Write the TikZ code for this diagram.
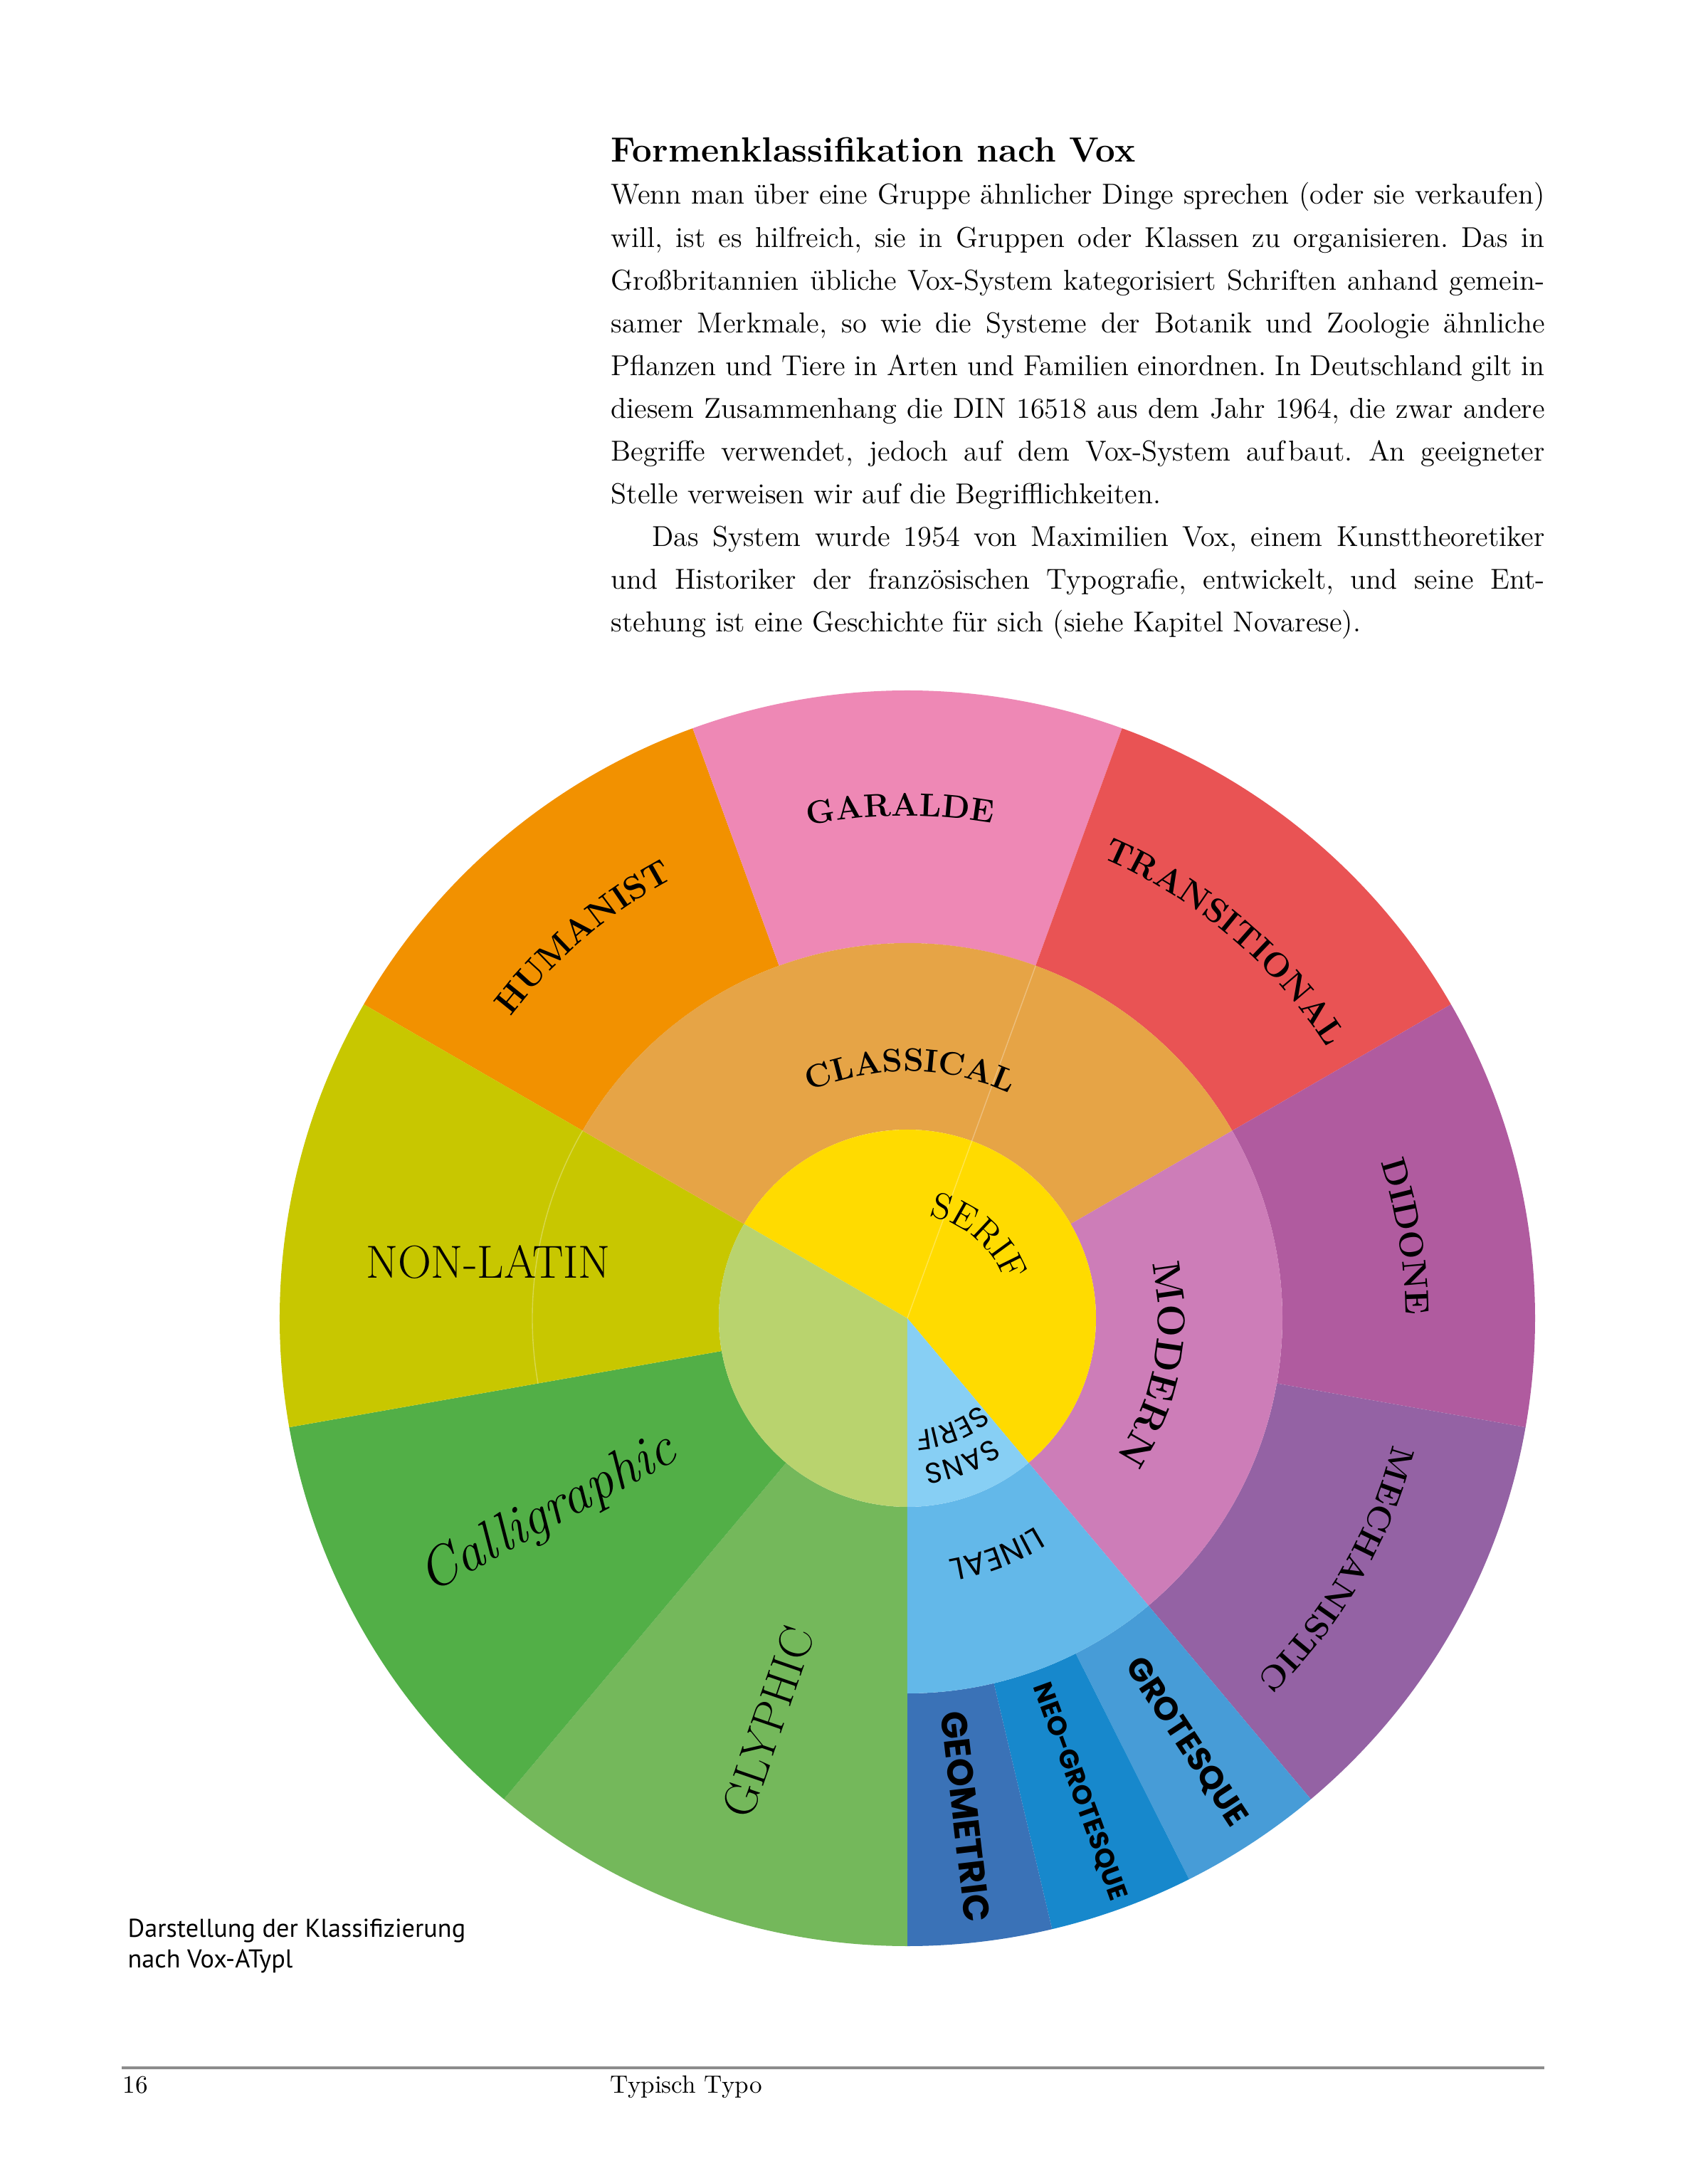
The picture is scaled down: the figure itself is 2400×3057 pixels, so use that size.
\documentclass[tikz,border=0pt]{standalone}
\usepackage{fontspec}
\usetikzlibrary{decorations.text}
\newfontfamily\capfont{PT Sans}
\newfontfamily\linfont{Poppins}

\definecolor{humanistc}{HTML}{F29100}
\definecolor{garaldec}{HTML}{EE88B5}
\definecolor{transitionalc}{HTML}{E95354}
\definecolor{didonec}{HTML}{B05B9F}
\definecolor{mechanisticc}{HTML}{9462A4}
\definecolor{grotesquec}{HTML}{479CD7}
\definecolor{neogrotesquec}{HTML}{1788CC}
\definecolor{geometricc}{HTML}{3A72B7}
\definecolor{glyphicc}{HTML}{74B85B}
\definecolor{calligraphicc}{HTML}{52AF47}
\definecolor{nonlatinc}{HTML}{C8C700}
\definecolor{classicalc}{HTML}{E6A446}
\definecolor{modernc}{HTML}{CD7DB8}
\definecolor{linealc}{HTML}{63B8E9}
\definecolor{serifc}{HTML}{FFDB00}
\definecolor{sansc}{HTML}{87CFF4}
\definecolor{otherc}{HTML}{B9D36E}

% ring piece: colour, start angle, end angle, inner radius, outer radius
\newcommand{\ringpart}[5]{%
  \fill[#1] (#2:#4) arc[start angle=#2, end angle=#3, radius=#4]
    -- (#3:#5) arc[start angle=#3, end angle=#2, radius=#5] -- cycle;}
% pie piece: colour, start angle, end angle, radius
\newcommand{\piepart}[4]{%
  \fill[#1] (0,0) -- (#2:#4) arc[start angle=#2, end angle=#3, radius=#4] -- cycle;}
% curved label: text, centre angle, baseline radius, half span
\newcommand{\arclabel}[4]{%
  \path[decorate, decoration={text along path, text align=center, text={#1}}]
    ({#2+#4}:#3) arc[start angle={#2+#4}, end angle={#2-#4}, radius=#3];}

\tikzset{
  seam/.style={white, opacity=0.3, line width=0.4pt},
  radlabel/.style={inner sep=0pt},
  pagetext/.style={anchor=base west, inner sep=0pt},
}

\begin{document}
\begin{tikzpicture}[x=0.1mm, y=0.1mm]
  \fill[white] (-1275,-1205) rectangle (1125,1852);
  \useasboundingbox (-1275,-1205) rectangle (1125,1852);

  % text above the wheel
  \node[pagetext, font=\bfseries\fontsize{14}{16}\selectfont] (title) at (-417,1624) {Formenklassifikation nach Vox};
  \node[pagetext, text width=131.2mm, align=justify, font=\fontsize{11.5}{17.1}\selectfont\frenchspacing] (body) at (-417,1565) {%
    Wenn man über eine Gruppe ähnlicher Dinge sprechen (oder sie verkaufen)\linebreak
    will, ist es hilfreich, sie in Gruppen oder Klassen zu organisieren. Das in\linebreak
    Großbritannien übliche Vox-System kategorisiert Schriften anhand gemein-\linebreak
    samer Merkmale, so wie die Systeme der Botanik und Zoologie ähnliche\linebreak
    Pflanzen und Tiere in Arten und Familien einordnen. In Deutschland gilt in\linebreak
    diesem Zusammenhang die DIN 16518 aus dem Jahr 1964, die zwar andere\linebreak
    Begriffe verwendet, jedoch auf dem Vox-System auf\kern1.5pt baut. An geeigneter\linebreak
    Stelle verweisen wir auf die Begrifflichkeiten.\par
    \hspace*{16.5pt}Das System wurde 1954 von Maximilien Vox, einem Kunsttheoretiker\linebreak
    und Historiker der französischen Typografie, entwickelt, und seine Ent-\linebreak
    stehung ist eine Geschichte für sich (siehe Kapitel Novarese).};

  % outer ring
  \ringpart{humanistc}{110}{150}{527}{882}
  \ringpart{garaldec}{70}{110}{527}{882}
  \ringpart{transitionalc}{30}{70}{527}{882}
  \ringpart{didonec}{-10}{30}{527}{882}
  \ringpart{mechanisticc}{-50}{-10}{527}{882}
  \ringpart{grotesquec}{-63.33}{-50}{527}{882}
  \ringpart{neogrotesquec}{-76.67}{-63.33}{527}{882}
  \ringpart{geometricc}{-90}{-76.67}{527}{882}
  \ringpart{glyphicc}{230}{270}{265}{882}
  \ringpart{calligraphicc}{190}{230}{265}{882}
  \ringpart{nonlatinc}{150}{190}{265}{882}
  % middle ring
  \ringpart{classicalc}{30}{150}{265}{527}
  \ringpart{modernc}{-50}{30}{265}{527}
  \ringpart{linealc}{-90}{-50}{265}{527}
  % centre
  \piepart{serifc}{-50}{150}{265}
  \piepart{otherc}{150}{270}{265}
  \piepart{sansc}{270}{310}{265}
  \draw[seam] (0,0) -- (70:527);
  \draw[seam] (150:527) arc[start angle=150, end angle=190, radius=527];

  % curved labels
  \arclabel{|\bfseries\fontsize{13.5}{16}\selectfont|HUMANIST}{130.4}{700}{40}
  \arclabel{|\bfseries\fontsize{13}{16}\selectfont|GARALDE}{90.8}{706}{40}
  \arclabel{|\bfseries\fontsize{13.5}{16}\selectfont|TRANSITIONAL}{49.9}{702}{40}
  \arclabel{|\bfseries\fontsize{13.5}{16}\selectfont|DIDONE}{9.3}{700}{40}
  \arclabel{|\bfseries\fontsize{13.2}{16}\selectfont|MECHANISTIC}{-30.2}{705}{40}
  \arclabel{|\bfseries\fontsize{13}{16}\selectfont|CLASSICAL}{89.4}{347}{60}
  \arclabel{|\bfseries\fontsize{15.5}{18}\selectfont|MODERN}{-10.5}{352}{60}
  \arclabel{|\fontsize{14.5}{17}\selectfont|SERIF}{49}{147}{70}
  \arclabel{|\linfont\fontsize{11.5}{14}\selectfont|SANS}{-69.3}{206}{50}
  \arclabel{|\linfont\fontsize{11.5}{14}\selectfont|SERIF}{-68}{158}{60}
  \arclabel{|\linfont\fontsize{12.5}{15}\selectfont|LINEAL}{-69.3}{344}{50}

  % straight labels
  \node[radlabel, rotate=-56.67, font=\linfont\bfseries\fontsize{13}{15}\selectfont] (grotesque) at (-56.67:713) {GROTESQUE};
  \node[radlabel, rotate=-70, font=\linfont\bfseries\fontsize{10.6}{13}\selectfont] (neogrotesque) at (-70:708) {NEO-GROTESQUE};
  \node[radlabel, rotate=-83.33, font=\linfont\bfseries\fontsize{14.5}{17}\selectfont] (geometric) at (-83.33:705) {GEOMETRIC};
  \node[radlabel, rotate=71, font=\fontsize{18.6}{22}\selectfont] (glyphic) at (251:600) {GLYPHIC};
  \node[radlabel, rotate=28.5, font=\itshape\fontsize{22}{26}\selectfont] (calligraphic) at (208.6:575) {Calligraphic};
  \node[radlabel, anchor=base, font=\fontsize{18.5}{22}\selectfont] (nonlatin) at (-589,56) {NON-LATIN};

  % caption and footer
  \node[pagetext, align=left, font=\capfont\fontsize{10.3}{12.2}\selectfont] (caption) at (-1096,-912) {Darstellung der Klassifizierung\\nach Vox-ATypl};
  \draw[black!45, line width=1.4pt] (-1104,-1053) -- (895,-1053);
  \node[pagetext, font=\fontsize{10}{12}\selectfont] (pageno) at (-1103,-1088) {16};
  \node[pagetext, font=\fontsize{10}{12}\selectfont] (running) at (-418,-1088) {Typisch Typo};
\end{tikzpicture}
\end{document}
